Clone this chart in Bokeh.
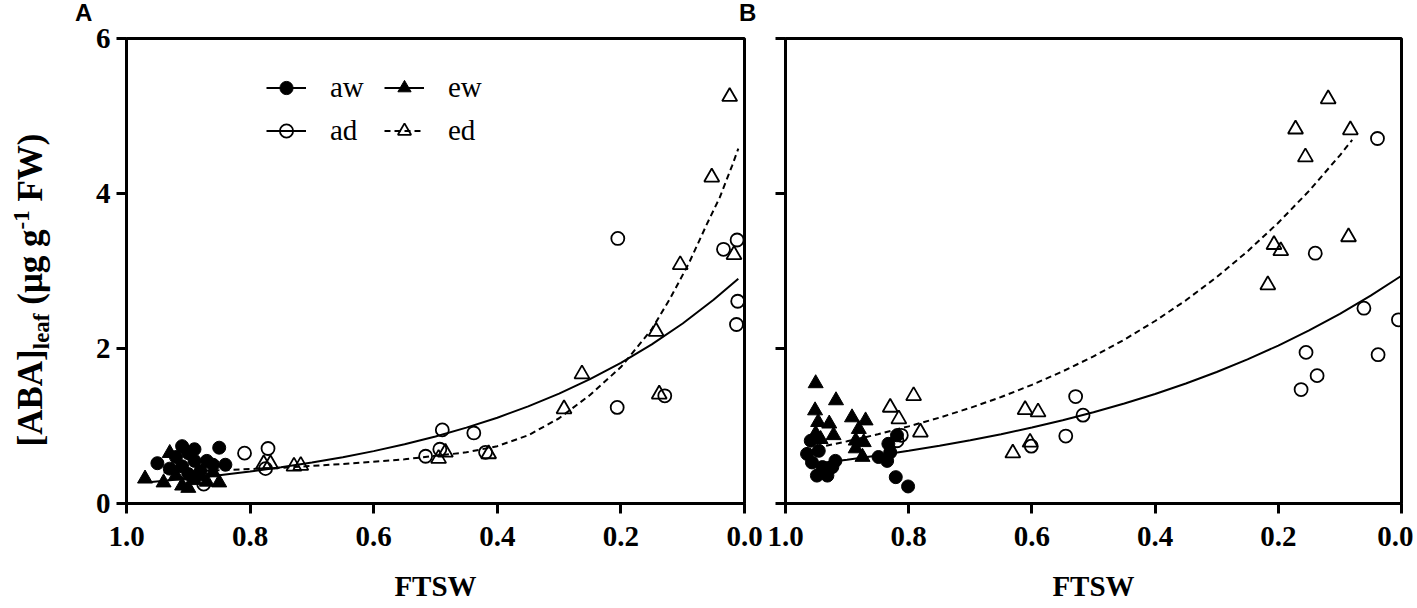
from bokeh.plotting import figure
from bokeh.models import (Range1d, Legend, LegendItem, FixedTicker, Div,
                          PrintfTickFormatter, CustomJSTickFormatter)
from bokeh.layouts import row, column
from bokeh.embed import file_html
from bokeh.resources import INLINE

SERIF = "Liberation Serif"
SANS = "Liberation Sans"

# ---------------- data : panel A ----------------
A_aw_x = [0.95, 0.93, 0.92, 0.91, 0.91, 0.90, 0.90, 0.89, 0.89, 0.88, 0.87, 0.86, 0.85, 0.84]
A_aw_y = [0.52, 0.45, 0.60, 0.74, 0.48, 0.65, 0.38, 0.55, 0.70, 0.42, 0.55, 0.50, 0.72, 0.50]
A_ew_x = [0.97, 0.94, 0.93, 0.92, 0.91, 0.90, 0.89, 0.88, 0.87, 0.86, 0.85]
A_ew_y = [0.32, 0.27, 0.65, 0.36, 0.23, 0.20, 0.30, 0.35, 0.28, 0.40, 0.27]
A_ad_x = [0.875, 0.809, 0.775, 0.771, 0.516, 0.493, 0.489, 0.438, 0.419, 0.206, 0.205, 0.129, 0.034, 0.012, 0.011, 0.013]
A_ad_y = [0.25, 0.65, 0.45, 0.71, 0.61, 0.70, 0.95, 0.91, 0.66, 1.24, 3.42, 1.39, 3.28, 3.40, 2.61, 2.31]
A_ed_x = [0.778, 0.767, 0.729, 0.718, 0.495, 0.484, 0.414, 0.292, 0.263, 0.143, 0.138, 0.104, 0.053, 0.024, 0.017]
A_ed_y = [0.51, 0.51, 0.48, 0.49, 0.58, 0.66, 0.64, 1.22, 1.67, 2.22, 1.41, 3.08, 4.21, 5.25, 3.21]
# fitted curves
A_fit_w_x = [0.96, 0.90, 0.85, 0.80, 0.75, 0.70, 0.65, 0.60, 0.55, 0.50, 0.45, 0.40, 0.35, 0.30, 0.25, 0.20, 0.15, 0.10, 0.05, 0.01]
A_fit_w_y = [0.278, 0.322, 0.364, 0.412, 0.467, 0.528, 0.597, 0.676, 0.765, 0.865, 0.979, 1.107, 1.253, 1.418, 1.604, 1.815, 2.054, 2.323, 2.629, 2.900]
A_fit_d_x = [0.94, 0.85, 0.75, 0.65, 0.55, 0.45, 0.40, 0.35, 0.30, 0.25, 0.20, 0.15, 0.12, 0.09, 0.06, 0.04, 0.02, 0.01]
A_fit_d_y = [0.40, 0.43, 0.46, 0.51, 0.57, 0.66, 0.74, 0.88, 1.10, 1.40, 1.76, 2.25, 2.65, 3.10, 3.62, 3.95, 4.36, 4.58]

# ---------------- data : panel B ----------------
B_aw_x = [0.959, 0.965, 0.957, 0.949, 0.932, 0.940, 0.924, 0.919, 0.946, 0.849, 0.835, 0.830, 0.833, 0.819, 0.821, 0.801]
B_aw_y = [0.81, 0.64, 0.53, 0.36, 0.36, 0.47, 0.47, 0.55, 0.68, 0.60, 0.55, 0.66, 0.77, 0.88, 0.34, 0.22]
B_ew_x = [0.951, 0.918, 0.952, 0.947, 0.929, 0.892, 0.870, 0.881, 0.922, 0.943, 0.886, 0.873, 0.886, 0.875, 0.951]
B_ew_y = [1.55, 1.33, 1.20, 1.05, 1.03, 1.11, 1.07, 0.96, 0.88, 0.83, 0.81, 0.79, 0.71, 0.60, 0.90]
B_ad_x = [0.819, 0.812, 0.601, 0.545, 0.529, 0.517, 0.163, 0.155, 0.140, 0.137, 0.061, 0.039, 0.038, 0.005]
B_ad_y = [0.81, 0.88, 0.74, 0.87, 1.38, 1.14, 1.47, 1.95, 3.23, 1.65, 2.52, 4.71, 1.92, 2.37]
B_ed_x = [0.830, 0.816, 0.792, 0.781, 0.631, 0.611, 0.603, 0.590, 0.217, 0.207, 0.196, 0.172, 0.156, 0.119, 0.086, 0.083]
B_ed_y = [1.24, 1.09, 1.39, 0.92, 0.65, 1.21, 0.79, 1.18, 2.82, 3.34, 3.26, 4.83, 4.47, 5.22, 3.44, 4.82]
B_fit_w_x = [0.95, 0.90, 0.85, 0.80, 0.75, 0.70, 0.65, 0.60, 0.55, 0.50, 0.45, 0.40, 0.35, 0.30, 0.25, 0.20, 0.15, 0.10, 0.05, 0.00]
B_fit_w_y = [0.517, 0.566, 0.620, 0.680, 0.745, 0.816, 0.894, 0.980, 1.074, 1.177, 1.290, 1.413, 1.549, 1.697, 1.860, 2.038, 2.233, 2.447, 2.682, 2.939]
B_fit_d_x = [0.95, 0.90, 0.85, 0.80, 0.75, 0.70, 0.65, 0.60, 0.55, 0.50, 0.45, 0.40, 0.35, 0.30, 0.25, 0.20, 0.15, 0.10, 0.08]
B_fit_d_y = [0.720, 0.802, 0.893, 0.995, 1.108, 1.234, 1.374, 1.531, 1.705, 1.898, 2.114, 2.355, 2.622, 2.921, 3.253, 3.623, 4.034, 4.493, 4.691]

X_TICKS = [0.0, 0.2, 0.4, 0.6, 0.8, 1.0]
Y_TICKS = [0, 2, 4, 6]
X_LABEL = "FTSW"
LEGEND_LABELS = ["aw", "ew", "ad", "ed"]
PANEL_LETTERS = ["A", "B"]

TOP_H = 21          # strip holding the panel letters
LABEL_W = 60        # strip holding the rotated y title
FRAME_H = 465
BOTTOM = 104
TICK_PX = "29px"


def make_panel(frame_w, border_l, border_r, show_ylabels):
    p = figure(frame_width=frame_w, frame_height=FRAME_H,
               x_range=Range1d(1.0, 0.0), y_range=Range1d(0, 6),
               output_backend="svg", toolbar_location=None,
               min_border_left=border_l, min_border_right=border_r,
               min_border_top=38 - TOP_H, min_border_bottom=BOTTOM,
               background_fill_color="white", border_fill_color="white")
    p.grid.visible = False
    p.outline_line_color = "black"
    p.outline_line_width = 3
    for ax in (p.xaxis[0], p.yaxis[0]):
        ax.axis_line_width = 3
        ax.major_tick_line_width = 3
        ax.major_tick_out = 10
        ax.major_tick_in = 0
        ax.minor_tick_line_color = None
        ax.major_label_text_font = SERIF
        ax.major_label_text_font_style = "bold"
        ax.major_label_text_font_size = TICK_PX
        ax.major_label_text_color = "black"
    p.xaxis.ticker = FixedTicker(ticks=X_TICKS)
    p.xaxis.formatter = PrintfTickFormatter(format="%.1f")
    p.xaxis.major_label_standoff = 13
    p.xaxis.axis_label = X_LABEL
    p.xaxis.axis_label_text_font = SERIF
    p.xaxis.axis_label_text_font_style = "bold"
    p.xaxis.axis_label_text_font_size = TICK_PX
    p.xaxis.axis_label_text_color = "black"
    p.xaxis.axis_label_standoff = 21
    p.yaxis.ticker = FixedTicker(ticks=Y_TICKS)
    p.yaxis.major_label_standoff = 6
    if show_ylabels:
        p.yaxis.formatter = PrintfTickFormatter(format="%d")
    else:
        p.yaxis.formatter = CustomJSTickFormatter(code="return ''")
    return p


def draw_series(p, fw_x, fw_y, fd_x, fd_y, aw, ew, ad, ed):
    solid = p.line(fw_x, fw_y, line_color="black", line_width=2)
    dashed = p.line(fd_x, fd_y, line_color="black", line_width=2, line_dash="6 4")
    r_aw = p.scatter(aw[0], aw[1], marker="circle", size=13, fill_color="black", line_color="black")
    r_ew = p.scatter(ew[0], ew[1], marker="triangle", size=15, fill_color="black", line_color="black")
    r_ad = p.scatter(ad[0], ad[1], marker="circle", size=13, fill_color=None, line_color="black", line_width=1.8)
    r_ed = p.scatter(ed[0], ed[1], marker="triangle", size=15, fill_color=None, line_color="black", line_width=1.8)
    return solid, dashed, r_aw, r_ew, r_ad, r_ed


# panel A : frame from page x 126 to 744
pA = make_panel(618, 126 - LABEL_W, 20, True)
sA, dA, awA, ewA, adA, edA = draw_series(pA, A_fit_w_x, A_fit_w_y, A_fit_d_x, A_fit_d_y,
                                         (A_aw_x, A_aw_y), (A_ew_x, A_ew_y),
                                         (A_ad_x, A_ad_y), (A_ed_x, A_ed_y))
# panel B : frame from page x 785 to 1401
pB = make_panel(616, 785 - 764, 12, False)
draw_series(pB, B_fit_w_x, B_fit_w_y, B_fit_d_x, B_fit_d_y,
            (B_aw_x, B_aw_y), (B_ew_x, B_ew_y), (B_ad_x, B_ad_y), (B_ed_x, B_ed_y))

legend = Legend(items=[LegendItem(label=LEGEND_LABELS[0], renderers=[sA, awA]),
                       LegendItem(label=LEGEND_LABELS[1], renderers=[sA, ewA]),
                       LegendItem(label=LEGEND_LABELS[2], renderers=[sA, adA]),
                       LegendItem(label=LEGEND_LABELS[3], renderers=[dA, edA])],
                location=(140, 356), orientation="horizontal", ncols=2,
                glyph_width=40, glyph_height=33, label_width=44, label_height=33,
                label_standoff=24, spacing=10, padding=0, margin=0,
                border_line_color=None, background_fill_alpha=0,
                label_text_font=SERIF, label_text_font_size="29px",
                label_text_color="black")
pA.add_layout(legend)

PANEL_H = (38 - TOP_H) + FRAME_H + BOTTOM
TOTAL_W = LABEL_W + (126 - LABEL_W + 618 + 20) + (21 + 616 + 12)

# ---- rotated y title as real HTML text (with subscript / superscript)
ytitle_html = (
    f'<div style="position:relative;width:{LABEL_W}px;height:{PANEL_H}px;overflow:visible;">'
    f'<div style="position:absolute;left:0;top:0;white-space:nowrap;line-height:1;'
    f"font-family:'{SERIF}';font-weight:bold;font-size:35px;color:black;"
    f'transform-origin:0 0;transform:translate(12.7px,{290 - TOP_H}px) rotate(-90deg) translateX(-50%);">'
    '[ABA]<span style="font-size:23px;position:relative;top:7px;">leaf</span>'
    ' (\u03bcg g<span style="font-size:23px;position:relative;top:-13px;">-1</span> FW)'
    '</div></div>'
)
ytitle = Div(text=ytitle_html, width=LABEL_W, height=PANEL_H, margin=(0, 0, 0, 0))

# ---- panel letters
letters_html = f'<div style="position:relative;width:{TOTAL_W}px;height:{TOP_H}px;">'
for letter, xl in zip(PANEL_LETTERS, [75, 739]):
    letters_html += (f'<div style="position:absolute;left:{xl}px;top:0.5px;line-height:1;'
                     f"font-family:'{SANS}';font-weight:bold;font-size:24px;color:black;\">"
                     f'{letter}</div>')
letters_html += '</div>'
letters = Div(text=letters_html, width=TOTAL_W, height=TOP_H, margin=(0, 0, 0, 0))

layout = column(letters, row(ytitle, pA, pB))
open("out.html", "w").write(file_html(layout, INLINE))
